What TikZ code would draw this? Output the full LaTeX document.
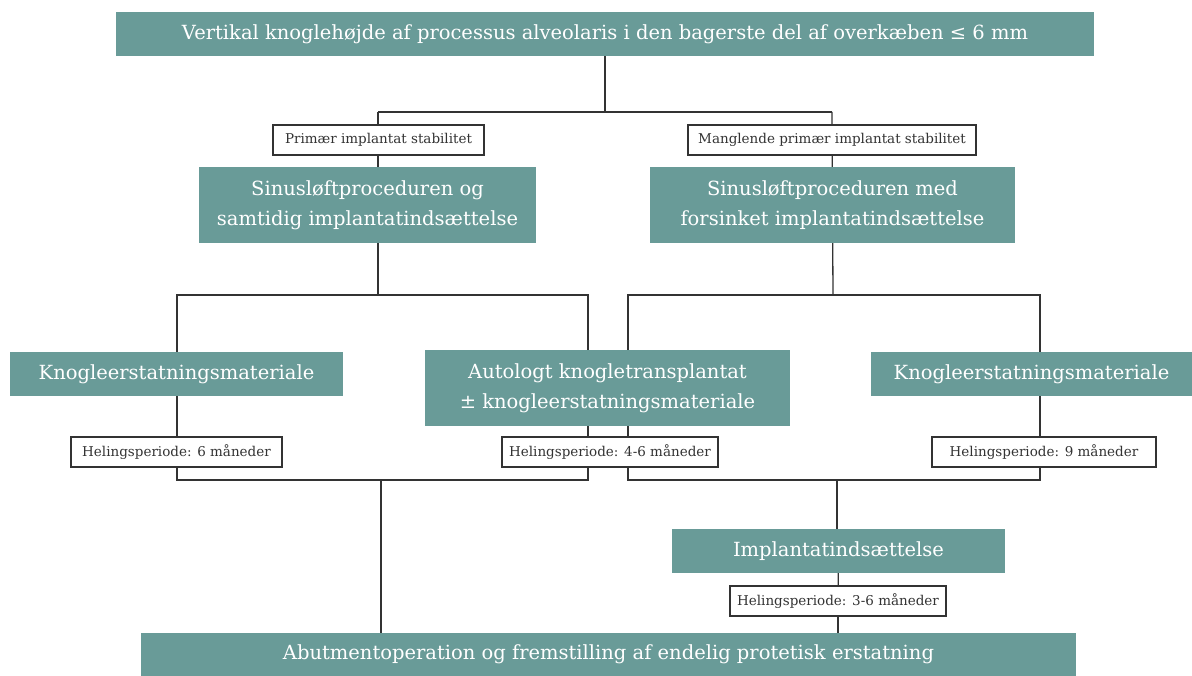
\documentclass[tikz,border=0pt]{standalone}
\usepackage{fontspec}
\setmainfont{DejaVu Serif}
\usetikzlibrary{backgrounds}
\definecolor{teal1}{HTML}{699B98}
\definecolor{ink}{HTML}{333333}
\tikzset{
  tealbox/.style={fill=teal1, text=white, inner sep=0pt, align=center,
    font=\fontsize{19.5}{30}\selectfont},
  labelbox/.style={draw=ink, line width=1.3pt, fill=white, text=ink, inner sep=0pt,
    minimum height=30pt, font=\fontsize{13.5}{16}\selectfont},
  conn/.style={draw=ink, line width=1.3pt}
}
\begin{document}
\begin{tikzpicture}[x=1pt,y=-1pt]
\useasboundingbox (0,0) rectangle (1192,676);
% teal boxes
\node[tealbox, minimum width=978pt, minimum height=44pt] (top) at (605,34)
  {Vertikal knoglehøjde af processus alveolaris i den bagerste del af overkæben ≤ 6 mm};
\node[tealbox, minimum width=337pt, minimum height=76pt] (sinL) at (367.5,205)
  {Sinusløftproceduren og\\samtidig implantatindsættelse};
\node[tealbox, minimum width=365pt, minimum height=76pt] (sinR) at (832.5,205)
  {Sinusløftproceduren med\\forsinket implantatindsættelse};
\node[tealbox, minimum width=333pt, minimum height=44pt] (knL) at (176.5,374)
  {Knogleerstatningsmateriale};
\node[tealbox, minimum width=365pt, minimum height=76pt] (auto) at (607.5,388)
  {Autologt knogletransplantat\\± knogleerstatningsmateriale};
\node[tealbox, minimum width=321pt, minimum height=44pt] (knR) at (1031.5,374)
  {Knogleerstatningsmateriale};
\node[tealbox, minimum width=333pt, minimum height=44pt] (impl) at (838.5,551)
  {Implantatindsættelse};
\node[tealbox, minimum width=935pt, minimum height=43pt] (abut) at (608.5,654.5)
  {Abutmentoperation og fremstilling af endelig protetisk erstatning};
% label boxes
\node[labelbox, minimum width=211pt] (lp) at (378.5,140) {Primær implantat stabilitet};
\node[labelbox, minimum width=288pt] (lm) at (832,140) {Manglende primær implantat stabilitet};
\node[labelbox, minimum width=211pt] (h6) at (176.5,452) {Helingsperiode: 6 måneder};
\node[labelbox, minimum width=216pt] (h46) at (610,452) {Helingsperiode: 4-6 måneder};
\node[labelbox, minimum width=224pt] (h9) at (1044,452) {Helingsperiode: 9 måneder};
\node[labelbox, minimum width=216pt] (h36) at (838,601) {Helingsperiode: 3-6 måneder};
% junction coordinates
\coordinate (j1) at (605,112);
\coordinate (h1) at (378,112);
\coordinate (h2) at (832,112);
\coordinate (jL) at (378,295);
\coordinate (jR) at (833,295);
\coordinate (a1) at (177,295);
\coordinate (a4) at (588,480);
\coordinate (b1) at (628,295);
\coordinate (b4) at (1040,480);
\coordinate (a5) at (381,480);
\coordinate (b5) at (837,480);
\begin{pgfonlayer}{background}
\draw[conn] (top) -- (j1);
\draw[conn] (h1) -- (h2);
\draw[conn] (h1) -- (jL);
\draw[conn] (h2) -- (jR);
\draw[conn] (a1) rectangle (a4);
\draw[conn] (b1) rectangle (b4);
\draw[conn] (a5) -- (a5 |- abut.north);
\draw[conn] (b5) -- (b5 |- impl.north);
\draw[conn] (impl) -- (h36);
\draw[conn] (h36) -- (h36 |- abut.north);
\end{pgfonlayer}
\end{tikzpicture}
\end{document}
